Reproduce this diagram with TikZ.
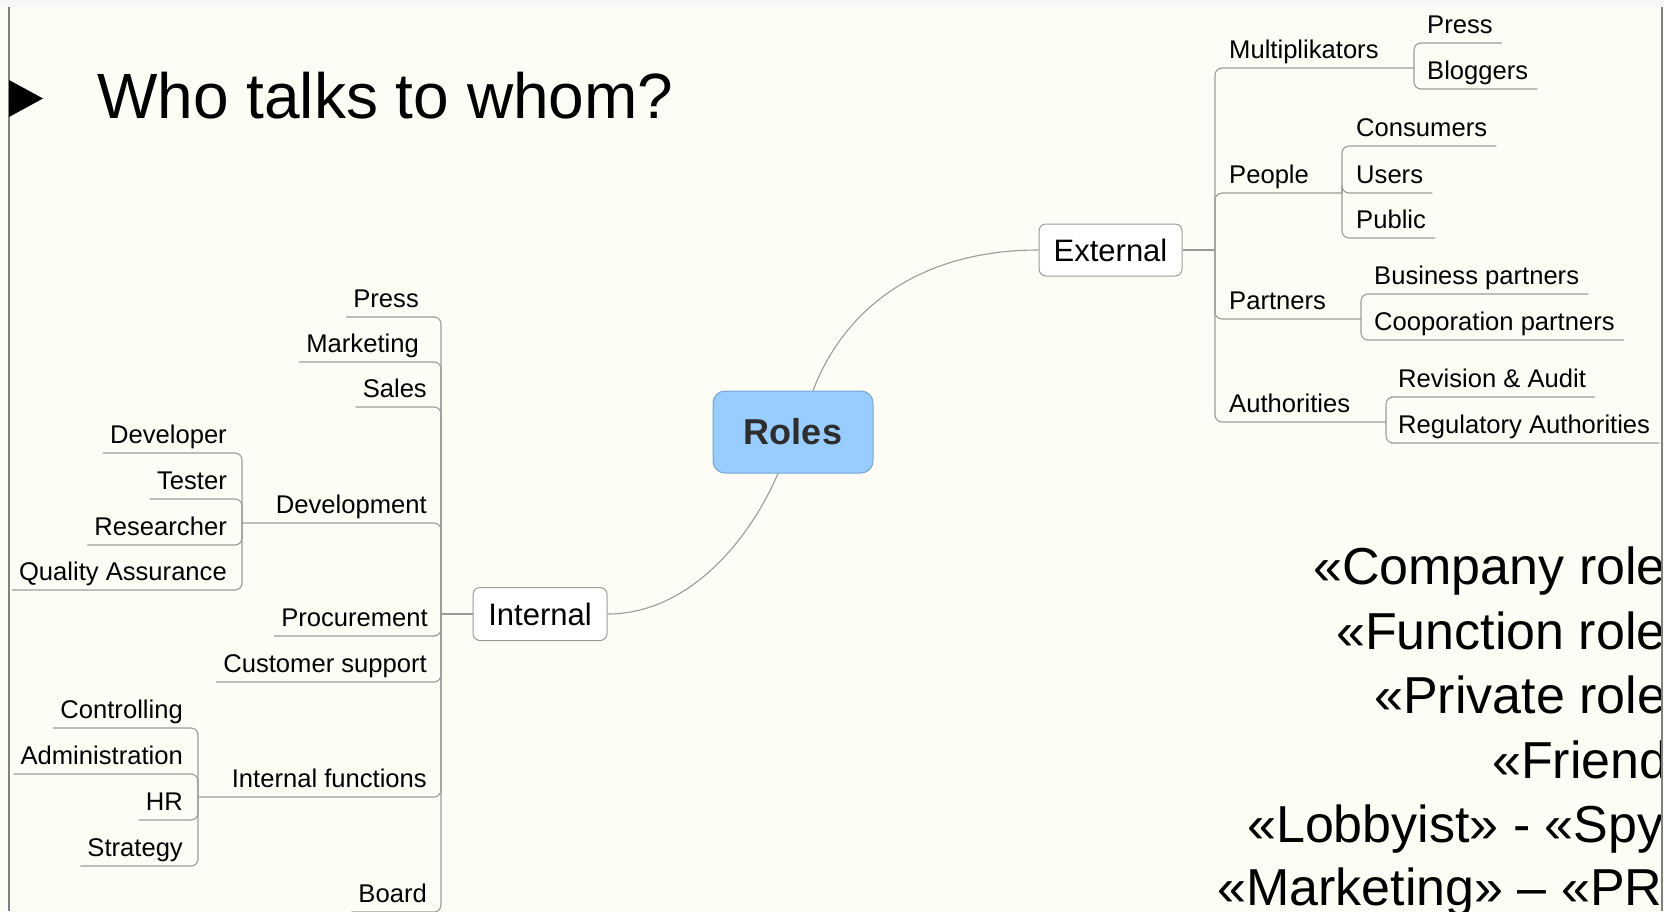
\documentclass[tikz,border=0pt]{standalone}
\usepackage{fontspec}
\setmainfont{Liberation Sans}
\definecolor{bg}{RGB}{253,253,246}
\definecolor{topstrip}{RGB}{246,246,249}
\definecolor{linegrey}{RGB}{155,155,155}
\definecolor{bordergrey}{RGB}{128,128,128}
\definecolor{rolesfill}{RGB}{153,204,255}
\definecolor{rolesdraw}{RGB}{120,165,210}
\definecolor{rolestext}{RGB}{45,45,45}
\begin{document}
\begin{tikzpicture}[x=1pt,y=-1pt,
  branch/.style={draw=linegrey, line width=1.1pt, rounded corners=7pt},
  mainlink/.style={draw=linegrey, line width=1.1pt},
  leaf/.style={font=\fontsize{25.6}{30}\selectfont, inner xsep=0pt, inner ysep=9pt, text depth=0pt},
  topicbox/.style={draw=linegrey, fill=white, rounded corners=7pt, line width=1pt,
    font=\fontsize{31}{36}\selectfont, inner sep=0pt},
  rolesbox/.style={draw=rolesdraw, fill=rolesfill, rounded corners=12pt, line width=1pt,
    font=\bfseries\fontsize{36}{42}\selectfont, text=rolestext, inner sep=0pt,
    minimum width=160pt, minimum height=82pt},
  bigtext/.style={font=\fontsize{52}{60}\selectfont, inner sep=0pt, anchor=base west},
]
% background and frame
\fill[bg] (0,0) rectangle (1664,911);
\useasboundingbox (0,0) rectangle (1664,911);
\fill[topstrip] (0,0) rectangle (1664,7);
\draw[bordergrey, line width=2pt] (9,7) -- (9,911);

% title
\fill[black] (9,80) -- (43,98.5) -- (9,117) -- cycle;
\node[font=\fontsize{64}{70}\selectfont, inner sep=0pt, anchor=base west] (title) at (97,118) {Who talks to whom?};

% central nodes
\node[rolesbox] (roles) at (793,432) {Roles};
\node[topicbox, minimum width=134pt, minimum height=53pt] (internal) at (540,614) {Internal};
\node[topicbox, minimum width=143pt, minimum height=52pt] (external) at (1110.5,250) {External};

\path (roles.north) ++(20,0) coordinate (rn);
\draw[mainlink] (rn) .. controls (848,300) and (929,250) .. (external.west);
\path (roles.south) ++(-15,0) coordinate (rs);
\draw[mainlink] (rs) .. controls (748,543) and (687,614) .. (internal.east);

% junctions
\coordinate (jInt) at (441,614);
\coordinate (jDev) at (242,523);
\coordinate (jIntf) at (198,797);
\coordinate (jExt) at (1215,250);
\coordinate (jMult) at (1414,68);
\coordinate (jPeople) at (1342,193);
\coordinate (jPart) at (1361,319);
\coordinate (jAuth) at (1386,422);

\draw[mainlink] (internal.west) -- (jInt);
\draw[mainlink] (external.east) -- (jExt);

% ---------- left side ----------
\node[leaf, anchor=south east] (lPress) at (419,317) {Press};
\node[leaf, anchor=south east] (lMark) at (419,362) {Marketing};
\node[leaf, anchor=south east] (lSales) at (427,407) {Sales};
\node[leaf, anchor=south east] (lDev) at (427,523) {Development};
\node[leaf, anchor=south east] (lProc) at (428,636) {Procurement};
\node[leaf, anchor=south east] (lCust) at (427,682) {Customer support};
\node[leaf, anchor=south east] (lIntf) at (427,797) {Internal functions};
\node[leaf, anchor=south east] (lBoard) at (427,912) {Board};

\foreach \n in {lPress,lMark,lSales,lProc,lCust,lBoard}
  \draw[branch] (jInt) |- (\n.south east) -- ([xshift=-7pt]\n.south west);
\draw[branch] (jInt) |- (lDev.south east) -- (jDev);
\draw[branch] (jInt) |- (lIntf.south east) -- (jIntf);

\node[leaf, anchor=south east] (lDeveloper) at (227,453) {Developer};
\node[leaf, anchor=south east] (lTester) at (227,499) {Tester};
\node[leaf, anchor=south east] (lResearcher) at (227,545) {Researcher};
\node[leaf, anchor=south east] (lQA) at (227,590) {Quality Assurance};
\foreach \n in {lDeveloper,lTester,lResearcher,lQA}
  \draw[branch] (jDev) |- (\n.south east) -- ([xshift=-7pt]\n.south west);

\node[leaf, anchor=south east] (lControlling) at (183,728) {Controlling};
\node[leaf, anchor=south east] (lAdmin) at (183,774) {Administration};
\node[leaf, anchor=south east] (lHR) at (183,820) {HR};
\node[leaf, anchor=south east] (lStrategy) at (183,866) {Strategy};
\foreach \n in {lControlling,lAdmin,lHR,lStrategy}
  \draw[branch] (jIntf) |- (\n.south east) -- ([xshift=-7pt]\n.south west);

% ---------- right side ----------
\node[leaf, anchor=south west] (rMult) at (1229,68) {Multiplikators};
\node[leaf, anchor=south west] (rPeople) at (1229,193) {People};
\node[leaf, anchor=south west] (rPart) at (1229,319) {Partners};
\node[leaf, anchor=south west] (rAuth) at (1229,422) {Authorities};
\draw[branch] (jExt) |- (rMult.south west) -- (jMult);
\draw[branch] (jExt) |- (rPeople.south west) -- (jPeople);
\draw[branch] (jExt) |- (rPart.south west) -- (jPart);
\draw[branch] (jExt) |- (rAuth.south west) -- (jAuth);

\node[leaf, anchor=south west] (rPress) at (1427,43) {Press};
\node[leaf, anchor=south west] (rBlog) at (1427,89) {Bloggers};
\foreach \n in {rPress,rBlog}
  \draw[branch] (jMult) |- (\n.south west) -- ([xshift=9pt]\n.south east);

\node[leaf, anchor=south west] (rCons) at (1356,146) {Consumers};
\node[leaf, anchor=south west] (rUsers) at (1356,193) {Users};
\node[leaf, anchor=south west] (rPublic) at (1356,238) {Public};
\foreach \n in {rCons,rUsers,rPublic}
  \draw[branch] (jPeople) |- (\n.south west) -- ([xshift=9pt]\n.south east);

\node[leaf, anchor=south west] (rBus) at (1374,294) {Business partners};
\node[leaf, anchor=south west] (rCoop) at (1374,340) {Cooporation partners};
\foreach \n in {rBus,rCoop}
  \draw[branch] (jPart) |- (\n.south west) -- ([xshift=9pt]\n.south east);

\node[leaf, anchor=south west] (rRev) at (1398,397) {Revision \& Audit};
\node[leaf, anchor=south west] (rReg) at (1398,443) {Regulatory Authorities};
\foreach \n in {rRev,rReg}
  \draw[branch] (jAuth) |- (\n.south west) -- ([xshift=9pt]\n.south east);

% ---------- bottom right text (cut by the frame, as in the slide) ----------
\begin{scope}
\clip (0,0) rectangle (1661,911);
\node[bigtext] (t1) at (1313,584) {«Company role»};
\node[bigtext] (t2) at (1336,649) {«Function role»};
\node[bigtext] (t3) at (1374,713) {«Private role»};
\node[bigtext] (t4) at (1492,778) {«Friend»};
\node[bigtext] (t5) at (1247,842) {«Lobbyist» - «Spy»};
\node[bigtext] (t6) at (1217,905) {«Marketing» – «PR»};
\end{scope}
\draw[bordergrey, line width=2pt] (1662,7) -- (1662,911);
\end{tikzpicture}
\end{document}
